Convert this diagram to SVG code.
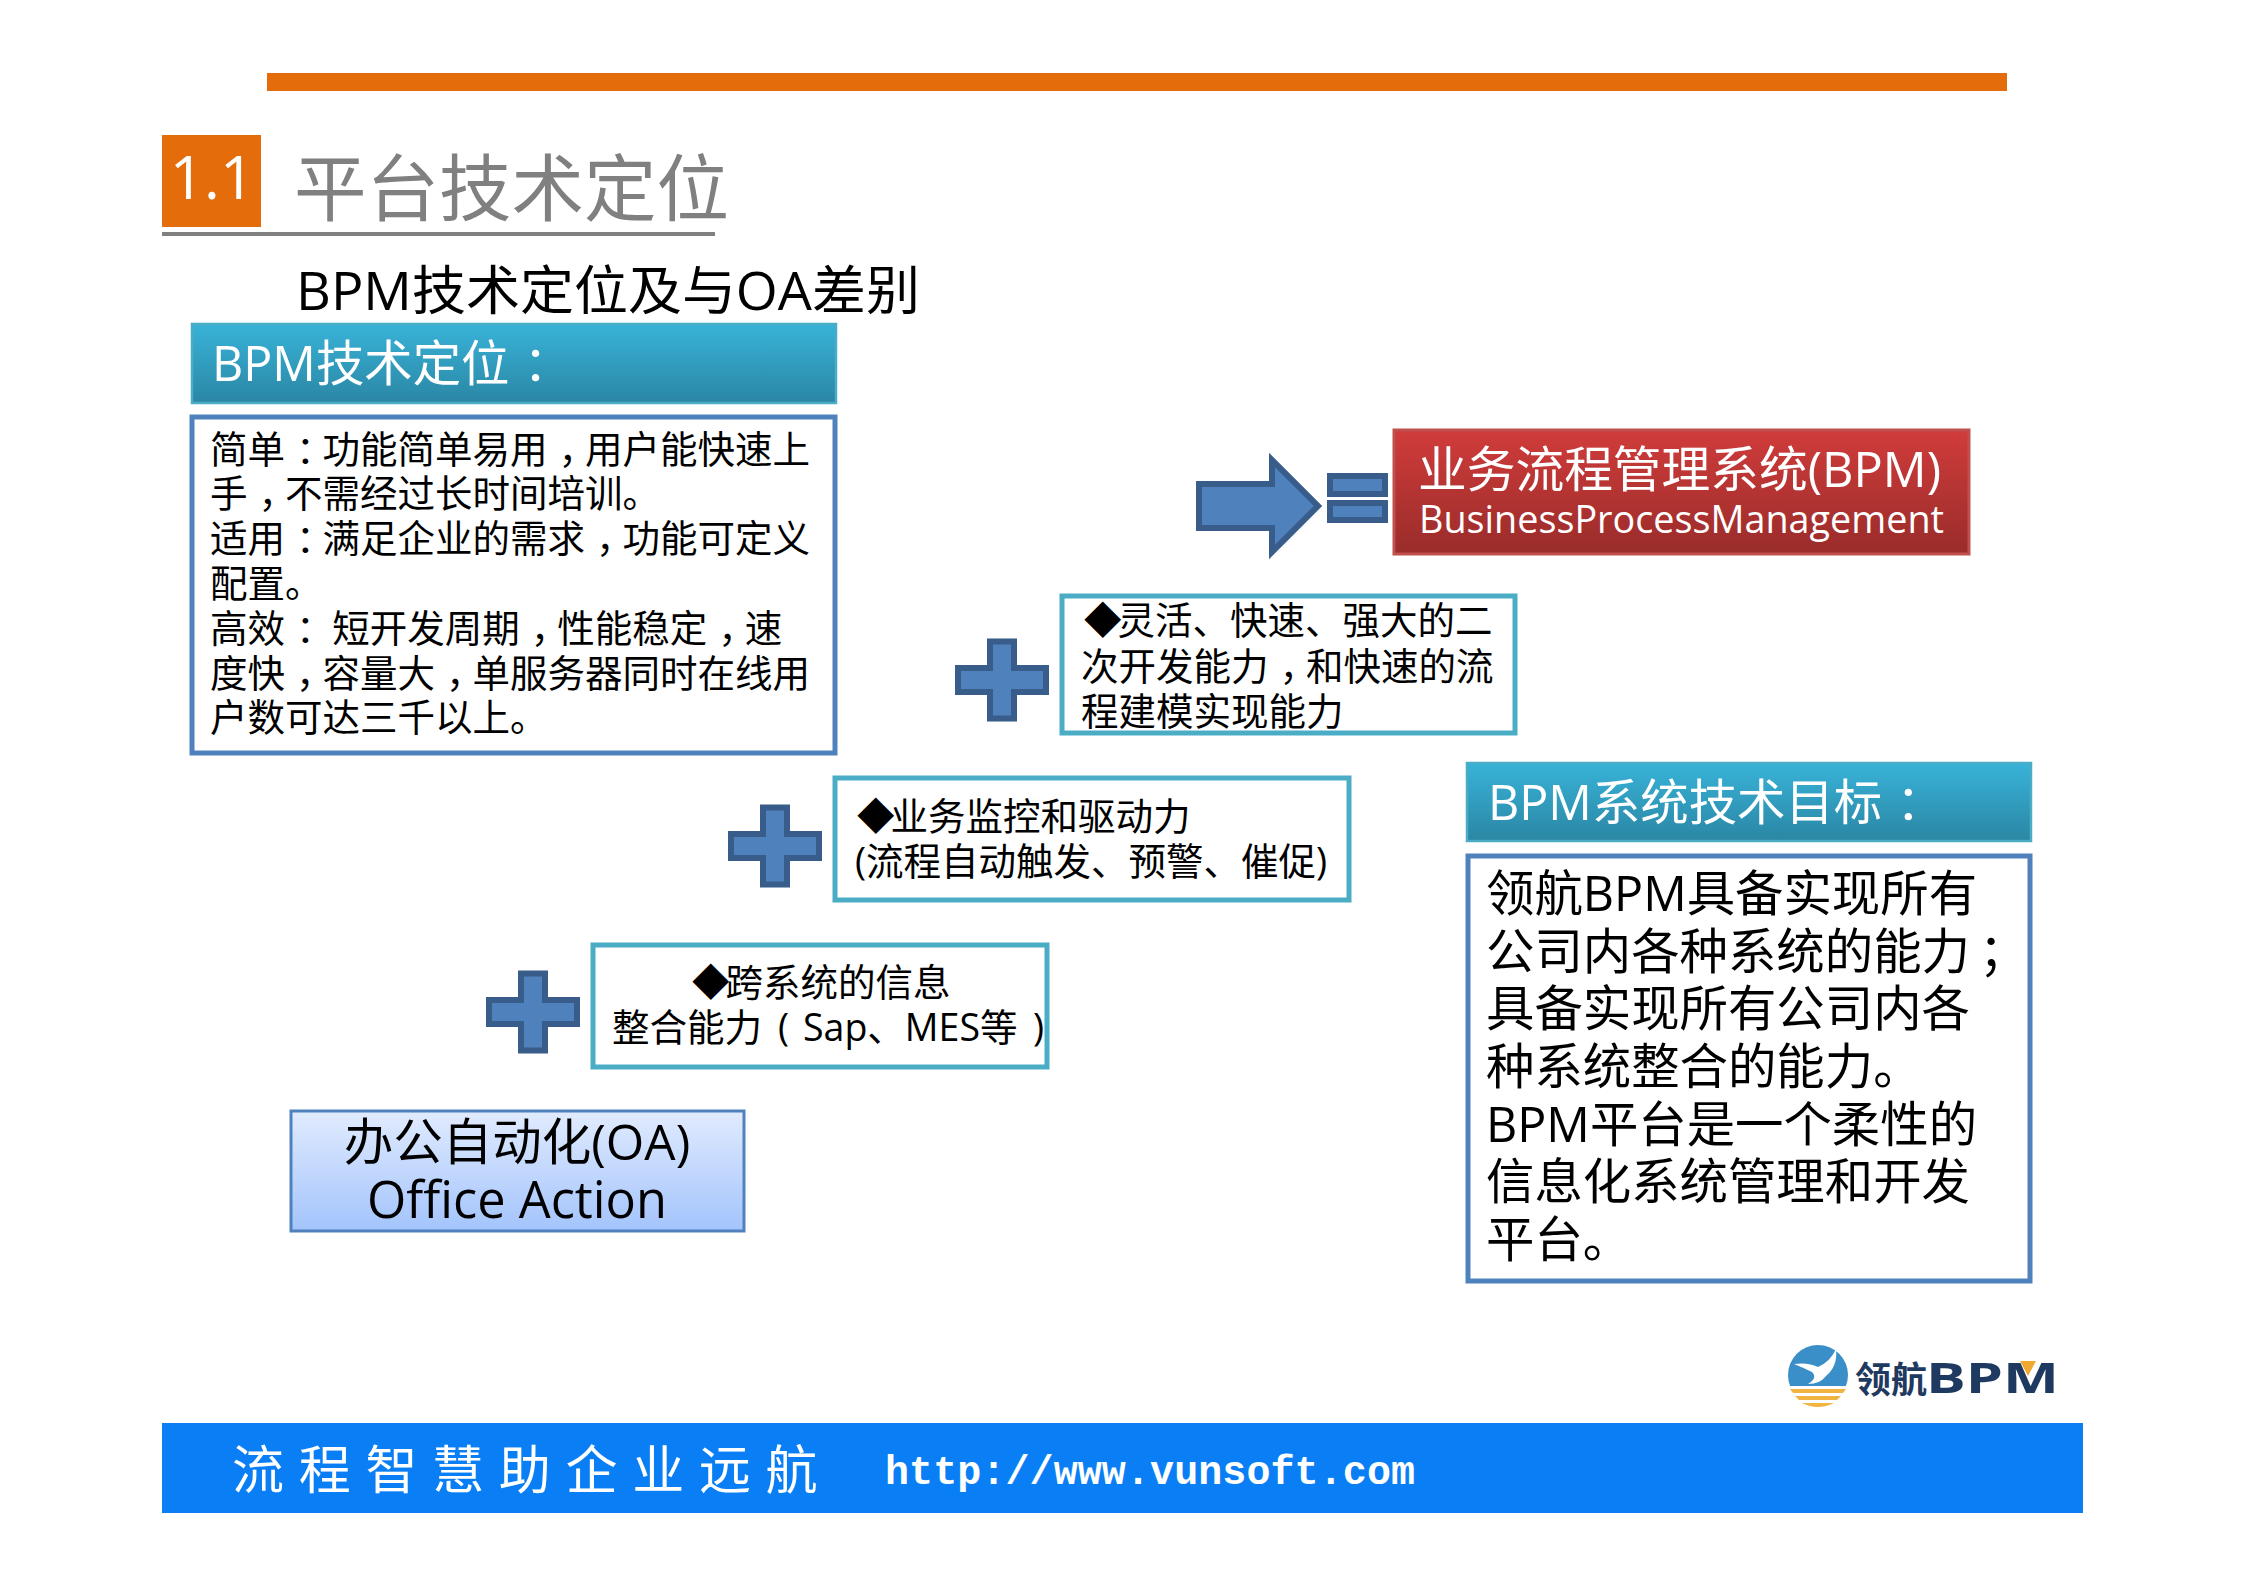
<svg xmlns="http://www.w3.org/2000/svg" width="2245" height="1586" viewBox="0 0 2245 1586">
<style>
text{font-family:"Open Sans","Noto Sans CJK SC",sans-serif;fill:#000}
.w{fill:#fff}
.t37{font-size:37.5px}
.t48{font-size:48.4px}
.blue{fill:#fff;stroke:#4f81bd;stroke-width:5}
.teal{fill:#fff;stroke:#4bacc6;stroke-width:5}
.shape{fill:#4f81bd;stroke:#385d8a;stroke-width:6}
.head{fill:url(#gTeal);stroke:#4bacc6;stroke-width:2.5}
</style>
<defs>
<linearGradient id="gTeal" x1="0" y1="0" x2="0" y2="1"><stop offset="0" stop-color="#38b3d8"/><stop offset="1" stop-color="#2b86a4"/></linearGradient>
<linearGradient id="gRed" x1="0" y1="0" x2="0" y2="1"><stop offset="0" stop-color="#d03c3b"/><stop offset="1" stop-color="#992c2a"/></linearGradient>
<linearGradient id="gBlue" x1="0" y1="0" x2="0" y2="1"><stop offset="0" stop-color="#e1ebfe"/><stop offset="1" stop-color="#a3c4fc"/></linearGradient>
<path id="plus" d="M-12-38.500H12V-12H44V12H12V38.500H-12V12H-44V-12H-12Z"/>
</defs>

<g id="top-bar"><rect x="267" y="73" width="1740" height="18" fill="#e46c0a"/></g>
<g id="title">
<rect x="162" y="135" width="99" height="92" fill="#e46c0a"/>
<text x="212" y="199" text-anchor="middle" class="w" font-size="60">1.1</text>
<text x="294" y="215" font-size="72.500" style="fill:#808080">平台技术定位</text>
<rect x="162" y="232" width="553" height="4" fill="#808080"/>
</g>
<text id="subtitle" x="296" y="310" font-size="53" textLength="624" lengthAdjust="spacingAndGlyphs">BPM技术定位及与OA差别</text>

<g id="bpm-position-header">
<rect class="head" x="192" y="324" width="644" height="79"/>
<text x="212" y="381" class="w t48">BPM技术定位<tspan dx="14">：</tspan></text>
</g>
<g id="bpm-position-body">
<rect class="blue" x="192" y="417" width="643" height="336"/>
<g class="t37">
<text x="210" y="463">简单<tspan dx="11">：</tspan><tspan dx="-11">功能简单易用</tspan><tspan dx="11">，</tspan><tspan dx="-11">用户能快速上</tspan></text>
<text x="210" y="507">手<tspan dx="11">，</tspan><tspan dx="-11">不需经过长时间培训。</tspan></text>
<text x="210" y="552">适用<tspan dx="11">：</tspan><tspan dx="-11">满足企业的需求</tspan><tspan dx="11">，</tspan><tspan dx="-11">功能可定义</tspan></text>
<text x="210" y="597">配置。</text>
<text x="210" y="642" xml:space="preserve">高效<tspan dx="11">：</tspan><tspan dx="-11"> 短开发周期</tspan><tspan dx="11">，</tspan><tspan dx="-11">性能稳定</tspan><tspan dx="11">，</tspan><tspan dx="-11">速</tspan></text>
<text x="210" y="687">度快<tspan dx="11">，</tspan><tspan dx="-11">容量大</tspan><tspan dx="11">，</tspan><tspan dx="-11">单服务器同时在线用</tspan></text>
<text x="210" y="731">户数可达三千以上。</text>
</g>
</g>

<g id="bpm-system">
<rect x="1394" y="430" width="575" height="124" fill="url(#gRed)" stroke="#c0504d" stroke-width="3"/>
<text x="1418" y="487" class="w t48" textLength="523" lengthAdjust="spacingAndGlyphs">业务流程管理系统(BPM)</text>
<text x="1419" y="533" class="w" font-size="39" textLength="525" lengthAdjust="spacingAndGlyphs">BusinessProcessManagement</text>
</g>
<g id="arrow-equals">
<path class="shape" d="M1199 484H1272V460L1318 506L1272 552V528H1199Z"/>
<rect class="shape" x="1330" y="476" width="55" height="18"/>
<rect class="shape" x="1330" y="503" width="55" height="17"/>
</g>

<g id="plus-1"><use href="#plus" class="shape" x="1002" y="680"/></g>
<g id="capability-1">
<rect class="teal" x="1062" y="596" width="453" height="137"/>
<g class="t37">
<text x="1084" y="634">◆<tspan dx="-4">灵活、快速、强大的二</tspan></text>
<text x="1081" y="680">次开发能力<tspan dx="11">，</tspan><tspan dx="-11">和快速的流</tspan></text>
<text x="1081" y="725">程建模实现能力</text>
</g>
</g>

<g id="plus-2"><use href="#plus" class="shape" x="775" y="846"/></g>
<g id="capability-2">
<rect class="teal" x="835" y="778" width="514" height="122"/>
<g class="t37">
<text x="857" y="830">◆<tspan dx="-4">业务监控和驱动力</tspan></text>
<text x="855" y="875">(流程自动触发、预警、催促)</text>
</g>
</g>

<g id="plus-3"><use href="#plus" class="shape" x="533" y="1012"/></g>
<g id="capability-3">
<rect class="teal" x="593" y="945" width="454" height="122"/>
<g class="t37">
<text x="692" y="996">◆<tspan dx="-4">跨系统的信息</tspan></text>
<text x="612" y="1041">整合能力<tspan x="778">(</tspan><tspan x="803">Sap、MES等</tspan><tspan x="1033">)</tspan></text>
</g>
</g>

<g id="oa-box">
<rect x="291" y="1111" width="453" height="120" fill="url(#gBlue)" stroke="#4f81bd" stroke-width="3"/>
<text x="517" y="1160" font-size="49.500" text-anchor="middle">办公自动化(OA)</text>
<text x="517" y="1218" font-size="50.500" text-anchor="middle">Office Action</text>
</g>

<g id="bpm-goal-header">
<rect class="head" x="1467" y="763" width="564" height="78"/>
<text x="1488" y="820" class="w t48">BPM系统技术目标<tspan dx="14">：</tspan></text>
</g>
<g id="bpm-goal-body">
<rect class="blue" x="1468" y="856" width="562" height="425"/>
<g class="t48">
<text x="1486" y="911">领航BPM具备实现所有</text>
<text x="1486" y="969">公司内各种系统的能力<tspan dx="9">；</tspan></text>
<text x="1486" y="1026">具备实现所有公司内各</text>
<text x="1486" y="1084">种系统整合的能力。</text>
<text x="1486" y="1142">BPM平台是一个柔性的</text>
<text x="1486" y="1199">信息化系统管理和开发</text>
<text x="1486" y="1257">平台。</text>
</g>
</g>

<g id="logo">
<circle cx="1818" cy="1375" r="30" fill="#3a8fc9"/>
<path d="M1789 1386H1847A30 30 0 0 1 1789 1386Z" fill="#fff"/>
<path d="M1790 1389H1846L1843 1393H1793Z" fill="#f2b440"/>
<path d="M1795 1396H1841L1837 1400H1799Z" fill="#f2b440"/>
<path d="M1802 1403H1834Q1818 1411 1802 1403Z" fill="#f2b440"/>
<path d="M1794 1364Q1808 1362 1818 1367Q1830 1362 1836 1349Q1838 1366 1826 1376Q1820 1384 1808 1384Q1818 1378 1812 1372Q1804 1368 1794 1364Z" fill="#fff"/>
<text x="1855" y="1393" font-size="36" style="fill:#1f3a60;font-weight:700" textLength="72" lengthAdjust="spacingAndGlyphs">领航</text>
<text x="1926" y="1393" font-size="42" style="fill:#1f3a60;font-weight:700" textLength="133" lengthAdjust="spacingAndGlyphs">BPM</text>
<path d="M2020 1361H2036L2028 1376Z" fill="#f0a830"/>
</g>

<g id="footer">
<rect x="162" y="1423" width="1921" height="90" fill="#0a7ff5"/>
<text x="232" y="1489" class="w" font-size="52" letter-spacing="14.700">流程智慧助企业远航</text>
<text x="885" y="1484" class="w" font-size="40" font-weight="700" style="font-family:'Liberation Mono',monospace" textLength="530">http://www.vunsoft.com</text>
</g>
</svg>
